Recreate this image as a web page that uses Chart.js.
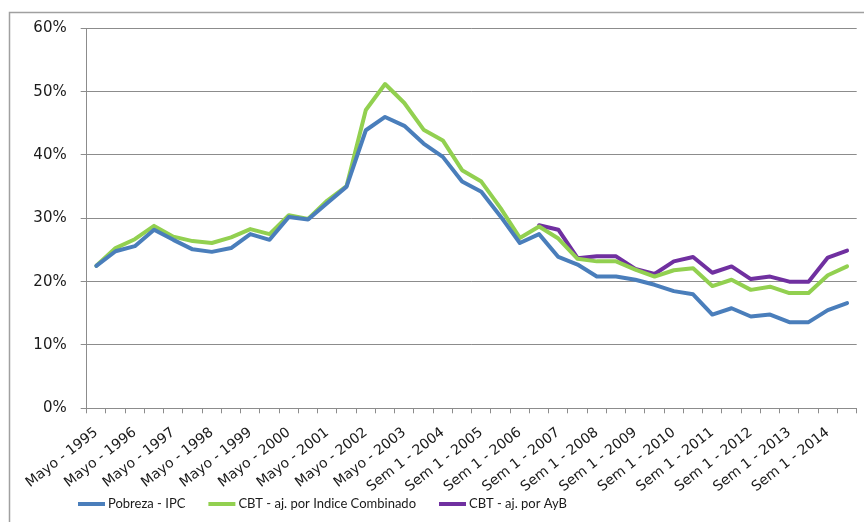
<!DOCTYPE html>
<html>
<head>
<meta charset="utf-8">
<script src="https://cdn.jsdelivr.net/npm/chart.js@4/dist/chart.umd.min.js"></script>
<style>
  html, body { margin: 0; padding: 0; background: #ffffff; }
  #wrap { width: 864px; height: 522px; position: relative; }
</style>
</head>
<body>
<div id="wrap"><canvas id="c" width="864" height="522"></canvas></div>
<script>
// Survey periods: EPH puntual (Mayo / Octubre) until 2003, then EPH continua by semester
const periods = [
  'Mayo - 1995', 'Octubre - 1995', 'Mayo - 1996', 'Octubre - 1996',
  'Mayo - 1997', 'Octubre - 1997', 'Mayo - 1998', 'Octubre - 1998',
  'Mayo - 1999', 'Octubre - 1999', 'Mayo - 2000', 'Octubre - 2000',
  'Mayo - 2001', 'Octubre - 2001', 'Mayo - 2002', 'Octubre - 2002',
  'Mayo - 2003', 'Sem 2 - 2003', 'Sem 1 - 2004', 'Sem 2 - 2004',
  'Sem 1 - 2005', 'Sem 2 - 2005', 'Sem 1 - 2006', 'Sem 2 - 2006',
  'Sem 1 - 2007', 'Sem 2 - 2007', 'Sem 1 - 2008', 'Sem 2 - 2008',
  'Sem 1 - 2009', 'Sem 2 - 2009', 'Sem 1 - 2010', 'Sem 2 - 2010',
  'Sem 1 - 2011', 'Sem 2 - 2011', 'Sem 1 - 2012', 'Sem 2 - 2012',
  'Sem 1 - 2013', 'Sem 2 - 2013', 'Sem 1 - 2014', 'Sem 2 - 2014'
];

// Poverty rate (% of persons)
const pobrezaIPC = [
  22.5, 24.8, 25.6, 28.2, 26.6, 25.1, 24.7, 25.3, 27.5, 26.6,
  30.2, 29.8, 32.4, 35.0, 43.9, 46.0, 44.6, 41.8, 39.7, 35.8,
  34.2, 30.3, 26.1, 27.5, 23.9, 22.7, 20.8, 20.8, 20.3, 19.5,
  18.5, 18.0, 14.8, 15.8, 14.5, 14.8, 13.6, 13.6, 15.5, 16.6
];
const cbtIndiceCombinado = [
  22.5, 25.3, 26.7, 28.8, 27.1, 26.4, 26.1, 27.0, 28.3, 27.5,
  30.5, 29.9, 32.8, 35.1, 47.1, 51.2, 48.2, 44.0, 42.3, 37.6,
  35.8, 31.6, 26.9, 28.7, 26.8, 23.6, 23.2, 23.2, 21.9, 20.8,
  21.8, 22.1, 19.3, 20.3, 18.7, 19.2, 18.2, 18.2, 21.0, 22.4
];
const cbtAyB = [
  null, null, null, null, null, null, null, null, null, null,
  null, null, null, null, null, null, null, null, null, null,
  null, null, null, 28.9, 28.2, 23.7, 24.0, 24.0, 22.0, 21.2,
  23.2, 23.9, 21.4, 22.4, 20.4, 20.8, 20.0, 20.0, 23.8, 24.9
];

const seriesNames = ['Pobreza - IPC', 'CBT - aj. por Indice Combinado', 'CBT - aj. por AyB'];
const seriesColors = ['#4a7ebb', '#92d050', '#7030a0'];

const gridColor = '#8c8c8c';

// Outer frame of the chart area
const framePlugin = {
  id: 'frame',
  beforeDraw(chart) {
    const ctx = chart.ctx;
    ctx.save();
    ctx.fillStyle = '#ffffff';
    ctx.fillRect(0, 0, chart.width, chart.height);
    ctx.strokeStyle = '#a0a0a0';
    ctx.lineWidth = 1.5;
    ctx.strokeRect(9.5, 12.5, 2000, 2000);
    ctx.restore();
  }
};

// Legend row under the axis labels
const legendRow = {
  id: 'legendRow',
  afterDraw(chart) {
    const ctx = chart.ctx;
    const y = 504;
    let x = 78;
    ctx.save();
    ctx.font = '13px Lato, sans-serif';
    ctx.textBaseline = 'middle';
    chart.data.datasets.forEach(ds => {
      ctx.strokeStyle = ds.borderColor;
      ctx.lineWidth = 4;
      ctx.beginPath();
      ctx.moveTo(x, y);
      ctx.lineTo(x + 27, y);
      ctx.stroke();
      ctx.fillStyle = '#1a1a1a';
      ctx.fillText(ds.label, x + 30, y);
      x += 30 + ctx.measureText(ds.label).width + 23;
    });
    ctx.restore();
  }
};

new Chart(document.getElementById('c'), {
  type: 'line',
  data: {
    labels: periods,
    datasets: [
      { label: seriesNames[0], data: pobrezaIPC, borderColor: seriesColors[0] },
      { label: seriesNames[1], data: cbtIndiceCombinado, borderColor: seriesColors[1] },
      { label: seriesNames[2], data: cbtAyB, borderColor: seriesColors[2] }
    ].map(d => Object.assign(d, {
      borderWidth: 4,
      pointRadius: 0,
      tension: 0,
      fill: false,
      borderJoinStyle: 'round',
      borderCapStyle: 'round',
      spanGaps: false
    }))
  },
  options: {
    responsive: false,
    animation: false,
    layout: { padding: { left: 0, right: 7.3, top: 28.3, bottom: 0 } },
    plugins: {
      legend: { display: false },
      tooltip: { enabled: false }
    },
    scales: {
      x: {
        offset: true,
        grid: {
          offset: true,
          drawOnChartArea: false,
          drawTicks: true,
          tickLength: 5,
          color: gridColor
        },
        border: { color: gridColor, width: 1 },
        ticks: {
          autoSkip: false,
          minRotation: 38,
          maxRotation: 38,
          padding: 11,
          color: '#1a1a1a',
          font: { family: 'DejaVu Sans', size: 14 },
          callback(value, index) {
            return index % 2 === 0 ? this.getLabelForValue(value) : '';
          }
        },
        afterFit(scale) {
          scale.height = 113.7;
          scale.paddingLeft = 0;
          scale.paddingRight = 0;
        }
      },
      y: {
        min: 0,
        max: 60,
        grid: {
          color: gridColor,
          tickLength: 6,
          drawTicks: true
        },
        border: { color: gridColor, width: 1 },
        ticks: {
          stepSize: 10,
          padding: 14,
          color: '#1a1a1a',
          font: { family: 'DejaVu Sans', size: 15 },
          callback: v => v + '%'
        },
        afterFit(scale) { scale.width = 86.7; }
      }
    }
  },
  plugins: [framePlugin, legendRow]
});
</script>
</body>
</html>
